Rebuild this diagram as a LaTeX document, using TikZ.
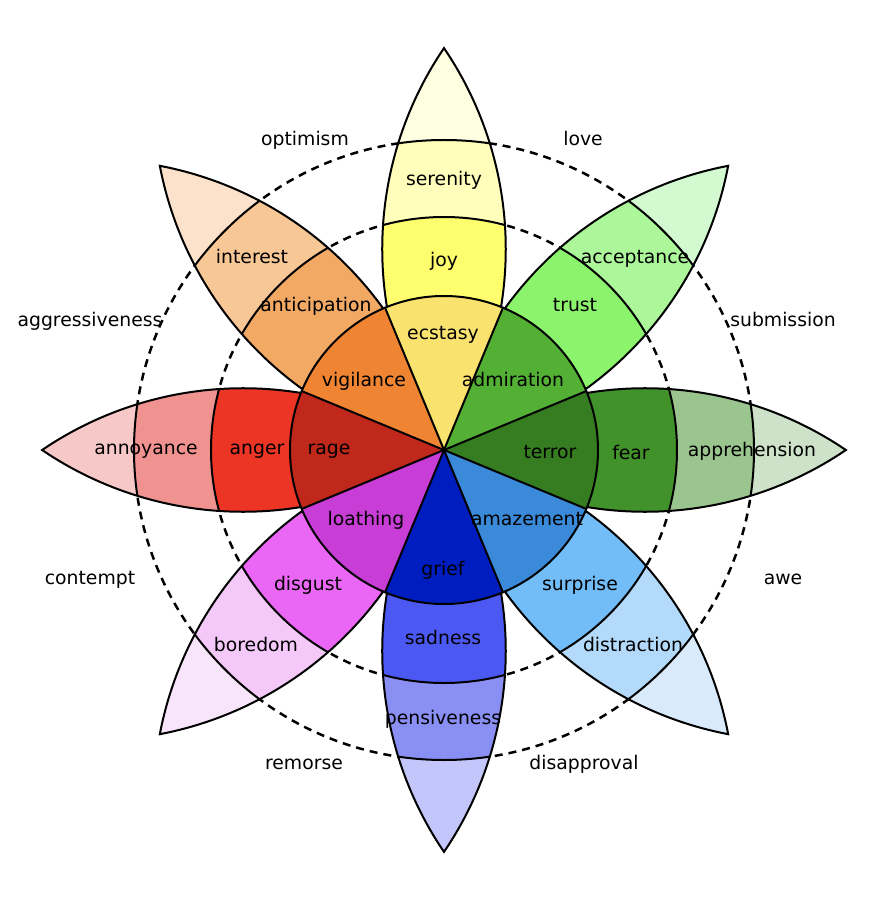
\documentclass[tikz,border=0pt]{standalone}
\usepackage{fontspec}
\setmainfont{DejaVu Sans}
% joy
\definecolor{joyS}{HTML}{FAE26E}\definecolor{joyM}{HTML}{FEFD6E}\definecolor{joyO}{HTML}{FFFFBB}\definecolor{joyT}{HTML}{FFFFE2}
% trust
\definecolor{truS}{HTML}{53B035}\definecolor{truM}{HTML}{8CF46C}\definecolor{truO}{HTML}{ACF79A}\definecolor{truT}{HTML}{D2F9D0}
% fear
\definecolor{feaS}{HTML}{367C20}\definecolor{feaM}{HTML}{41922A}\definecolor{feaO}{HTML}{9BC58F}\definecolor{feaT}{HTML}{CDE2C8}
% surprise
\definecolor{surS}{HTML}{3A8AD9}\definecolor{surM}{HTML}{72BDF7}\definecolor{surO}{HTML}{B3DAFA}\definecolor{surT}{HTML}{D9EBFB}
% sadness
\definecolor{sadS}{HTML}{001EC0}\definecolor{sadM}{HTML}{4B59F2}\definecolor{sadO}{HTML}{8A8FF4}\definecolor{sadT}{HTML}{C3C6FB}
% disgust
\definecolor{disS}{HTML}{C73DD5}\definecolor{disM}{HTML}{EA66F4}\definecolor{disO}{HTML}{F4C8F8}\definecolor{disT}{HTML}{F9E5FB}
% anger
\definecolor{angS}{HTML}{C0281C}\definecolor{angM}{HTML}{EC3525}\definecolor{angO}{HTML}{F09390}\definecolor{angT}{HTML}{F7C8C8}
% anticipation
\definecolor{antS}{HTML}{EF8433}\definecolor{antM}{HTML}{F2A964}\definecolor{antO}{HTML}{F7C796}\definecolor{antT}{HTML}{FCE2CB}
\begin{document}
\begin{tikzpicture}[x=1pt,y=1pt,line width=2pt,
  lbl/.style={font=\fontsize{18.8}{21}\selectfont,text height=13pt,text depth=4pt,inner sep=0pt,yshift=-3pt},
  ring/.style={line width=2.5pt,dash pattern=on 8pt off 6pt}]
\useasboundingbox (-444,-450) rectangle (444,450);
\draw[ring] (0,0) circle[radius=233];
\draw[ring] (0,0) circle[radius=310];
\foreach \a/\cm/\co/\ct in {90/joyM/joyO/joyT,45/truM/truO/truT,0/feaM/feaO/feaT,-45/surM/surO/surT,-90/sadM/sadO/sadT,-135/disM/disO/disT,180/angM/angO/angT,135/antM/antO/antT}{
  \begin{scope}[rotate=\a]
    \begin{scope}
      \path[clip] (0,0) arc[start angle=235.83,end angle=304.17,radius=357.8] arc[start angle=55.83,end angle=124.17,radius=357.8] -- cycle;
      \fill[\ct] (-10,-100) rectangle (420,100);
      \fill[\co] (0,0) circle[radius=310];
      \fill[\cm] (0,0) circle[radius=233];
      \draw (0,0) circle[radius=233];
      \draw (0,0) circle[radius=310];
    \end{scope}
    \draw[line join=miter] (0,0) arc[start angle=235.83,end angle=304.17,radius=357.8] arc[start angle=55.83,end angle=124.17,radius=357.8] -- cycle;
  \end{scope}
}
\foreach \a/\cs in {90/joyS,45/truS,0/feaS,-45/surS,-90/sadS,-135/disS,180/angS,135/antS}{
  \fill[\cs] (0,0) -- (\a-22.5:154) arc[start angle=\a-22.5,end angle=\a+22.5,radius=154] -- cycle;
}
\foreach \a in {22.5,67.5,...,337.5}{\draw (0,0) -- (\a:154);}
\draw (0,0) circle[radius=154];
% labels
\node[lbl] (ecstasy) at (-1,118) {ecstasy};
\node[lbl] (joy) at (0,191) {joy};
\node[lbl] (serenity) at (0,272) {serenity};
\node[lbl] (admiration) at (69,71) {admiration};
\node[lbl] (trust) at (131,146) {trust};
\node[lbl] (acceptance) at (191,194) {acceptance};
\node[lbl] (terror) at (106,-1) {terror};
\node[lbl] (fear) at (187,-2) {fear};
\node[lbl] (apprehension) at (308,1) {apprehension};
\node[lbl] (amazement) at (83,-68) {amazement};
\node[lbl] (surprise) at (136,-133) {surprise};
\node[lbl] (distraction) at (189,-194) {distraction};
\node[lbl] (grief) at (-1,-118) {grief};
\node[lbl] (sadness) at (-1,-187) {sadness};
\node[lbl] (pensiveness) at (-1,-267) {pensiveness};
\node[lbl] (loathing) at (-78,-68) {loathing};
\node[lbl] (disgust) at (-136,-133) {disgust};
\node[lbl] (boredom) at (-188,-194) {boredom};
\node[lbl] (rage) at (-115,3) {rage};
\node[lbl] (anger) at (-187,3) {anger};
\node[lbl] (annoyance) at (-298,3) {annoyance};
\node[lbl] (vigilance) at (-80,71) {vigilance};
\node[lbl] (anticipation) at (-128,146) {anticipation};
\node[lbl] (interest) at (-192,194) {interest};
\node[lbl] (optimism) at (-139,312) {optimism};
\node[lbl] (love) at (139,312) {love};
\node[lbl] (submission) at (339,131) {submission};
\node[lbl] (awe) at (339,-127) {awe};
\node[lbl] (disapproval) at (140,-312) {disapproval};
\node[lbl] (remorse) at (-140,-312) {remorse};
\node[lbl] (contempt) at (-354,-127) {contempt};
\node[lbl] (aggressiveness) at (-354,131) {aggressiveness};
\end{tikzpicture}
\end{document}
